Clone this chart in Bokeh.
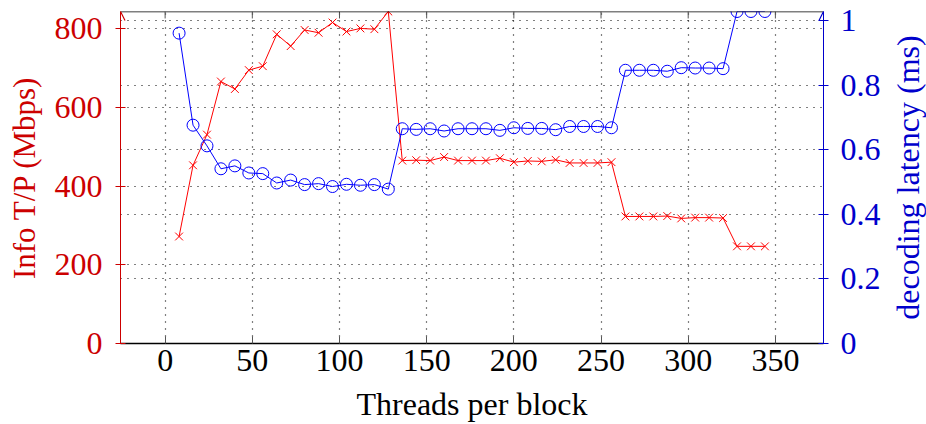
import math
from bokeh.plotting import figure
from bokeh.layouts import row
from bokeh.models import (Range1d, LinearAxis, FixedTicker, Grid, Arrow, OpenHead, Span,
                          CustomJSTickFormatter)
from bokeh.core.properties import value
from bokeh.embed import file_html
from bokeh.resources import INLINE

# ---- data ----
threads = [8, 16, 24, 32, 40, 48, 56, 64, 72, 80, 88, 96, 104, 112, 120, 128,
           136, 144, 152, 160, 168, 176, 184, 192, 200, 208, 216, 224, 232, 240, 248, 256,
           264, 272, 280, 288, 296, 304, 312, 320, 328, 336, 344]
info_tp = [272, 453, 531, 666, 647, 695, 705, 786, 756, 797, 790, 816, 793, 801, 799, 844,
           465, 466, 465, 474, 465, 465, 465, 471, 461, 464, 463, 467, 459, 459, 459, 461,
           323, 323, 323, 324, 318, 320, 320, 319, 247, 247, 247]
latency = [0.961, 0.676, 0.612, 0.541, 0.550, 0.528, 0.526, 0.497, 0.506, 0.492, 0.495, 0.486,
           0.493, 0.490, 0.492, 0.478,
           0.665, 0.663, 0.665, 0.658, 0.665, 0.665, 0.665, 0.660, 0.668, 0.666, 0.666, 0.662,
           0.672, 0.672, 0.672, 0.668,
           0.846, 0.846, 0.846, 0.843, 0.854, 0.853, 0.853, 0.851, 1.028, 1.028, 1.028]

x_ticks = [0, 50, 100, 150, 200, 250, 300, 350]
left_ticks = [0, 200, 400, 600, 800]
right_ticks = [0, 0.2, 0.4, 0.6, 0.8, 1]
x_title = "Threads per block"
left_title = "Info T/P (Mbps)"
right_title = "decoding latency (ms)"

FONT = "Liberation Serif"
RED_TXT = "#cc0000"
BLUE_TXT = "#0000cc"

span = max(threads) - min(threads)
x0 = min(threads) - 0.1 * span
x1 = max(threads) + 0.1 * span
ymax_l = max(info_tp)
ymax_r = max(latency)

TITLE_W = 38
p = figure(width=926 - TITLE_W, height=424, output_backend="svg", toolbar_location=None,
           x_range=Range1d(x0, x1), y_range=Range1d(0, ymax_l),
           x_axis_type=None, y_axis_type=None,
           min_border_left=120, min_border_right=926 - TITLE_W - 823,
           min_border_top=11, min_border_bottom=79)
right_range = Range1d(0, ymax_r)
p.extra_y_ranges = {"right": right_range}
p.outline_line_color = None
p.background_fill_color = "white"
p.border_fill_color = "white"

# bottom axis
xaxis = LinearAxis(ticker=FixedTicker(ticks=x_ticks), axis_label=x_title)
xaxis.axis_line_color = "black"
xaxis.axis_line_width = 1.3
xaxis.major_tick_in = 7
xaxis.major_tick_out = 0
xaxis.major_tick_line_color = "#555555"
xaxis.major_label_standoff = 6
xaxis.major_label_text_font = FONT
xaxis.major_label_text_font_size = "32px"
xaxis.major_label_text_color = "black"
xaxis.axis_label_standoff = 12
xaxis.axis_label_text_font = FONT
xaxis.axis_label_text_font_size = "32px"
xaxis.axis_label_text_font_style = "normal"
xaxis.axis_label_text_color = "black"
p.add_layout(xaxis, "below")

# left axis
left = LinearAxis(ticker=FixedTicker(ticks=left_ticks), axis_label=left_title)
left.axis_line_color = RED_TXT
left.major_tick_line_color = RED_TXT
left.major_tick_in = 5
left.major_tick_out = 5
left.major_label_standoff = 13
left.major_label_text_font = FONT
left.major_label_text_font_size = "32px"
left.major_label_text_color = RED_TXT
left.axis_label_standoff = 10
left.axis_label_text_font = FONT
left.axis_label_text_font_size = "31px"
left.axis_label_text_font_style = "normal"
left.axis_label_text_color = RED_TXT
p.add_layout(left, "left")

# right axis
right = LinearAxis(y_range_name="right", ticker=FixedTicker(ticks=right_ticks),
                   formatter=CustomJSTickFormatter(code="return String(tick)"))
right.axis_line_color = BLUE_TXT
right.major_tick_line_color = BLUE_TXT
right.major_tick_in = 5
right.major_tick_out = 5
right.major_label_standoff = 12
right.major_label_text_font = FONT
right.major_label_text_font_size = "32px"
right.major_label_text_color = BLUE_TXT
p.add_layout(right, "right")

# top border with inward ticks
p.add_layout(Span(location=ymax_l, dimension="width", line_color="black", line_width=1.3))
tick_len = 7 * ymax_l / 334.0
p.segment(x0=x_ticks, y0=[ymax_l] * len(x_ticks), x1=x_ticks,
          y1=[ymax_l - tick_len] * len(x_ticks), line_color="#555555", line_width=1)

# grids (dotted)
for g in [Grid(dimension=0, ticker=xaxis.ticker),
          Grid(dimension=1, ticker=left.ticker),
          Grid(dimension=1, ticker=right.ticker, y_range_name="right")]:
    g.grid_line_color = "black"
    g.grid_line_dash = "1 6"
    g.grid_line_width = 1.2
    p.add_layout(g)

# data series
p.line(threads, info_tp, line_color="red", line_width=1)
p.scatter(threads, info_tp, marker="x", size=11, line_color="red", line_width=1)
p.line(threads, latency, line_color="blue", line_width=1, y_range_name="right")
p.scatter(threads, latency, marker="circle", size=12, fill_color=None, line_color="blue",
          line_width=1, y_range_name="right")

# axis arrows
p.add_layout(Arrow(end=OpenHead(size=9, line_color=RED_TXT, line_width=1.2),
                   x_start=x0, y_start=ymax_l * 0.95, x_end=x0, y_end=ymax_l,
                   line_color=RED_TXT, line_width=1))
p.add_layout(Arrow(end=OpenHead(size=9, line_color=BLUE_TXT, line_width=1.2),
                   x_start=x1, y_start=ymax_r * 0.95, x_end=x1, y_end=ymax_r,
                   line_color=BLUE_TXT, line_width=1, y_range_name="right"))

# right-hand axis title (reads bottom-to-top), in a narrow strip next to the plot
p2 = figure(width=TITLE_W, height=424, output_backend="svg", toolbar_location=None,
            x_range=Range1d(0, 1), y_range=right_range,
            x_axis_type=None, y_axis_type=None,
            min_border_left=0, min_border_right=0, min_border_top=11, min_border_bottom=79)
p2.outline_line_color = None
p2.background_fill_color = "white"
p2.border_fill_color = "white"
p2.grid.visible = False
p2.text(x=[0.5], y=[ymax_r / 2], text=[right_title], angle=math.pi / 2,
        text_align="center", text_baseline="middle", text_font=value(FONT),
        text_font_size="32px", text_color=BLUE_TXT)

layout = row(p, p2, spacing=0)
open("out.html", "w").write(file_html(layout, INLINE))
